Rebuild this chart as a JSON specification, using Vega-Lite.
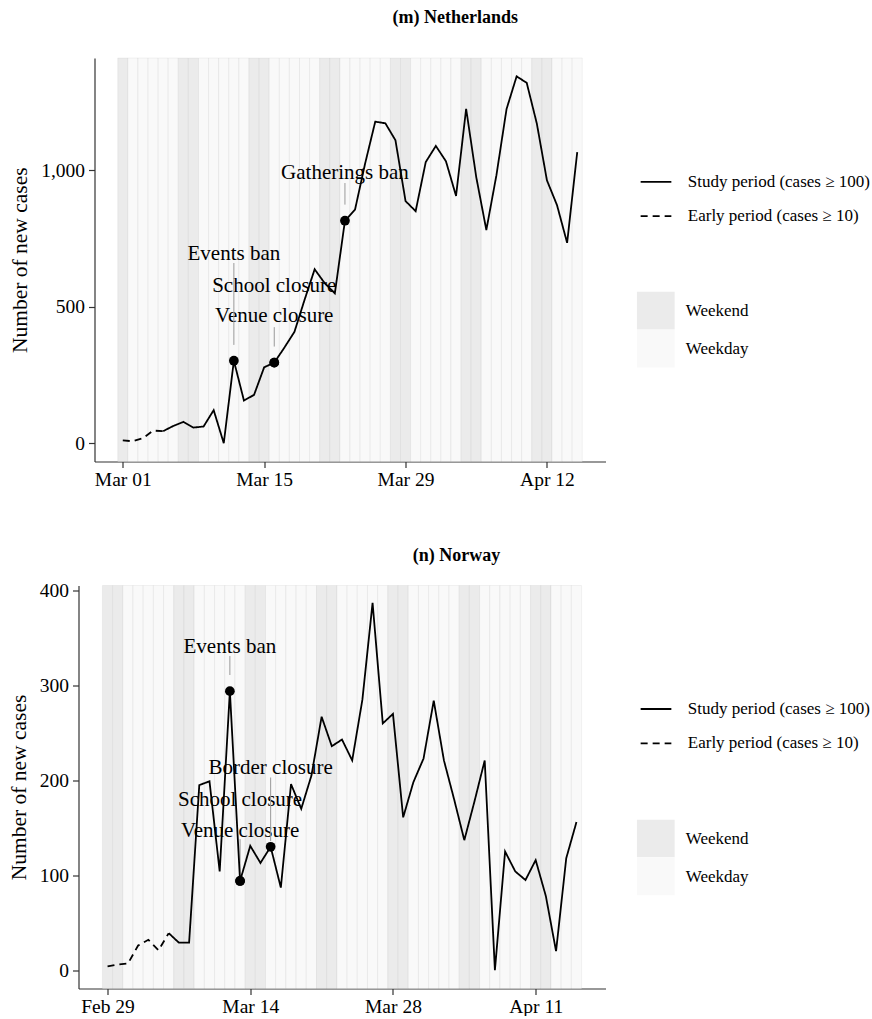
{
  "$schema": "https://vega.github.io/schema/vega-lite/v6.json",
  "background": "white",
  "padding": {"left": 7.5, "top": 8, "right": 0, "bottom": 0},
  "columns": 1,
  "spacing": 57.5,
  "config": {
    "font": "Liberation Serif",
    "view": {"stroke": null},
    "axis": {
      "grid": false,
      "domainColor": "#333333",
      "domainWidth": 1.2,
      "tickColor": "#333333",
      "tickWidth": 1.2,
      "tickSize": 6,
      "labelPadding": 4,
      "labelFont": "Liberation Serif",
      "labelFontSize": 19.5,
      "labelColor": "black",
      "titleFont": "Liberation Serif",
      "titleFontSize": 21.5,
      "titleFontWeight": "normal",
      "titleColor": "black",
      "titlePadding": 9
    },
    "axisX": {"labelPadding": 3},
    "legend": {
      "labelFont": "Liberation Serif",
      "labelFontSize": 17,
      "labelColor": "black",
      "labelLimit": 400,
      "padding": 0,
      "direction": "vertical"
    },
    "title": {"font": "Liberation Serif", "fontSize": 18, "fontWeight": "bold", "color": "black", "frame": "group", "anchor": "middle"}
  },
  "resolve": {
    "scale": {"x": "independent", "y": "independent", "fill": "independent", "strokeDash": "independent"},
    "legend": {"fill": "independent", "strokeDash": "independent"}
  },
  "datasets": {
    "nl": [
      {"date": "2020-03-01", "cases": 10, "day": "Weekend", "early": true, "study": false},
      {"date": "2020-03-02", "cases": 7, "day": "Weekday", "early": true, "study": false},
      {"date": "2020-03-03", "cases": 18, "day": "Weekday", "early": true, "study": false},
      {"date": "2020-03-04", "cases": 46, "day": "Weekday", "early": true, "study": false},
      {"date": "2020-03-05", "cases": 44, "day": "Weekday", "early": true, "study": true},
      {"date": "2020-03-06", "cases": 63, "day": "Weekday", "early": false, "study": true},
      {"date": "2020-03-07", "cases": 78, "day": "Weekend", "early": false, "study": true},
      {"date": "2020-03-08", "cases": 57, "day": "Weekend", "early": false, "study": true},
      {"date": "2020-03-09", "cases": 61, "day": "Weekday", "early": false, "study": true},
      {"date": "2020-03-10", "cases": 121, "day": "Weekday", "early": false, "study": true},
      {"date": "2020-03-11", "cases": 0, "day": "Weekday", "early": false, "study": true},
      {"date": "2020-03-12", "cases": 302, "day": "Weekday", "early": false, "study": true},
      {"date": "2020-03-13", "cases": 156, "day": "Weekday", "early": false, "study": true},
      {"date": "2020-03-14", "cases": 177, "day": "Weekend", "early": false, "study": true},
      {"date": "2020-03-15", "cases": 278, "day": "Weekend", "early": false, "study": true},
      {"date": "2020-03-16", "cases": 295, "day": "Weekday", "early": false, "study": true},
      {"date": "2020-03-17", "cases": 350, "day": "Weekday", "early": false, "study": true},
      {"date": "2020-03-18", "cases": 408, "day": "Weekday", "early": false, "study": true},
      {"date": "2020-03-19", "cases": 525, "day": "Weekday", "early": false, "study": true},
      {"date": "2020-03-20", "cases": 637, "day": "Weekday", "early": false, "study": true},
      {"date": "2020-03-21", "cases": 586, "day": "Weekend", "early": false, "study": true},
      {"date": "2020-03-22", "cases": 549, "day": "Weekend", "early": false, "study": true},
      {"date": "2020-03-23", "cases": 815, "day": "Weekday", "early": false, "study": true},
      {"date": "2020-03-24", "cases": 856, "day": "Weekday", "early": false, "study": true},
      {"date": "2020-03-25", "cases": 1025, "day": "Weekday", "early": false, "study": true},
      {"date": "2020-03-26", "cases": 1178, "day": "Weekday", "early": false, "study": true},
      {"date": "2020-03-27", "cases": 1172, "day": "Weekday", "early": false, "study": true},
      {"date": "2020-03-28", "cases": 1110, "day": "Weekend", "early": false, "study": true},
      {"date": "2020-03-29", "cases": 887, "day": "Weekend", "early": false, "study": true},
      {"date": "2020-03-30", "cases": 850, "day": "Weekday", "early": false, "study": true},
      {"date": "2020-03-31", "cases": 1030, "day": "Weekday", "early": false, "study": true},
      {"date": "2020-04-01", "cases": 1089, "day": "Weekday", "early": false, "study": true},
      {"date": "2020-04-02", "cases": 1033, "day": "Weekday", "early": false, "study": true},
      {"date": "2020-04-03", "cases": 906, "day": "Weekday", "early": false, "study": true},
      {"date": "2020-04-04", "cases": 1225, "day": "Weekend", "early": false, "study": true},
      {"date": "2020-04-05", "cases": 975, "day": "Weekend", "early": false, "study": true},
      {"date": "2020-04-06", "cases": 781, "day": "Weekday", "early": false, "study": true},
      {"date": "2020-04-07", "cases": 982, "day": "Weekday", "early": false, "study": true},
      {"date": "2020-04-08", "cases": 1224, "day": "Weekday", "early": false, "study": true},
      {"date": "2020-04-09", "cases": 1344, "day": "Weekday", "early": false, "study": true},
      {"date": "2020-04-10", "cases": 1320, "day": "Weekday", "early": false, "study": true},
      {"date": "2020-04-11", "cases": 1171, "day": "Weekend", "early": false, "study": true},
      {"date": "2020-04-12", "cases": 963, "day": "Weekend", "early": false, "study": true},
      {"date": "2020-04-13", "cases": 872, "day": "Weekday", "early": false, "study": true},
      {"date": "2020-04-14", "cases": 734, "day": "Weekday", "early": false, "study": true},
      {"date": "2020-04-15", "cases": 1066, "day": "Weekday", "early": false, "study": true}
    ],
    "nl_events": [
      {"date": "2020-03-12", "cases": 302, "label": "Events ban", "label_y": 694, "seg_from": 660, "seg_to": 360},
      {"date": "2020-03-16", "cases": 295, "label": "School closure", "label_y": 577, "seg_from": null, "seg_to": null},
      {"date": "2020-03-16", "cases": 295, "label": "Venue closure", "label_y": 467, "seg_from": 425, "seg_to": 354},
      {"date": "2020-03-23", "cases": 815, "label": "Gatherings ban", "label_y": 990, "seg_from": 953, "seg_to": 874}
    ],
    "no": [
      {"date": "2020-02-29", "cases": 4, "day": "Weekend", "early": true, "study": false},
      {"date": "2020-03-01", "cases": 6, "day": "Weekend", "early": true, "study": false},
      {"date": "2020-03-02", "cases": 7, "day": "Weekday", "early": true, "study": false},
      {"date": "2020-03-03", "cases": 26, "day": "Weekday", "early": true, "study": false},
      {"date": "2020-03-04", "cases": 32, "day": "Weekday", "early": true, "study": false},
      {"date": "2020-03-05", "cases": 21, "day": "Weekday", "early": true, "study": false},
      {"date": "2020-03-06", "cases": 39, "day": "Weekday", "early": true, "study": true},
      {"date": "2020-03-07", "cases": 29, "day": "Weekend", "early": false, "study": true},
      {"date": "2020-03-08", "cases": 29, "day": "Weekend", "early": false, "study": true},
      {"date": "2020-03-09", "cases": 195, "day": "Weekday", "early": false, "study": true},
      {"date": "2020-03-10", "cases": 199, "day": "Weekday", "early": false, "study": true},
      {"date": "2020-03-11", "cases": 104, "day": "Weekday", "early": false, "study": true},
      {"date": "2020-03-12", "cases": 294, "day": "Weekday", "early": false, "study": true},
      {"date": "2020-03-13", "cases": 94, "day": "Weekday", "early": false, "study": true},
      {"date": "2020-03-14", "cases": 131, "day": "Weekend", "early": false, "study": true},
      {"date": "2020-03-15", "cases": 113, "day": "Weekend", "early": false, "study": true},
      {"date": "2020-03-16", "cases": 130, "day": "Weekday", "early": false, "study": true},
      {"date": "2020-03-17", "cases": 87, "day": "Weekday", "early": false, "study": true},
      {"date": "2020-03-18", "cases": 196, "day": "Weekday", "early": false, "study": true},
      {"date": "2020-03-19", "cases": 170, "day": "Weekday", "early": false, "study": true},
      {"date": "2020-03-20", "cases": 205, "day": "Weekday", "early": false, "study": true},
      {"date": "2020-03-21", "cases": 267, "day": "Weekend", "early": false, "study": true},
      {"date": "2020-03-22", "cases": 236, "day": "Weekend", "early": false, "study": true},
      {"date": "2020-03-23", "cases": 243, "day": "Weekday", "early": false, "study": true},
      {"date": "2020-03-24", "cases": 221, "day": "Weekday", "early": false, "study": true},
      {"date": "2020-03-25", "cases": 285, "day": "Weekday", "early": false, "study": true},
      {"date": "2020-03-26", "cases": 387, "day": "Weekday", "early": false, "study": true},
      {"date": "2020-03-27", "cases": 260, "day": "Weekday", "early": false, "study": true},
      {"date": "2020-03-28", "cases": 270, "day": "Weekend", "early": false, "study": true},
      {"date": "2020-03-29", "cases": 161, "day": "Weekend", "early": false, "study": true},
      {"date": "2020-03-30", "cases": 198, "day": "Weekday", "early": false, "study": true},
      {"date": "2020-03-31", "cases": 223, "day": "Weekday", "early": false, "study": true},
      {"date": "2020-04-01", "cases": 284, "day": "Weekday", "early": false, "study": true},
      {"date": "2020-04-02", "cases": 221, "day": "Weekday", "early": false, "study": true},
      {"date": "2020-04-03", "cases": 180, "day": "Weekday", "early": false, "study": true},
      {"date": "2020-04-04", "cases": 137, "day": "Weekend", "early": false, "study": true},
      {"date": "2020-04-05", "cases": 178, "day": "Weekend", "early": false, "study": true},
      {"date": "2020-04-06", "cases": 221, "day": "Weekday", "early": false, "study": true},
      {"date": "2020-04-07", "cases": 0, "day": "Weekday", "early": false, "study": true},
      {"date": "2020-04-08", "cases": 125, "day": "Weekday", "early": false, "study": true},
      {"date": "2020-04-09", "cases": 104, "day": "Weekday", "early": false, "study": true},
      {"date": "2020-04-10", "cases": 95, "day": "Weekday", "early": false, "study": true},
      {"date": "2020-04-11", "cases": 116, "day": "Weekend", "early": false, "study": true},
      {"date": "2020-04-12", "cases": 78, "day": "Weekend", "early": false, "study": true},
      {"date": "2020-04-13", "cases": 20, "day": "Weekday", "early": false, "study": true},
      {"date": "2020-04-14", "cases": 118, "day": "Weekday", "early": false, "study": true},
      {"date": "2020-04-15", "cases": 156, "day": "Weekday", "early": false, "study": true}
    ],
    "no_events": [
      {"date": "2020-03-12", "cases": 294, "label": "Events ban", "label_y": 341, "seg_from": 331, "seg_to": 311},
      {"date": "2020-03-16", "cases": 130, "label": "Border closure", "label_y": 213, "seg_from": 203, "seg_to": 136},
      {"date": "2020-03-13", "cases": 94, "label": "School closure", "label_y": 179, "seg_from": null, "seg_to": null},
      {"date": "2020-03-13", "cases": 94, "label": "Venue closure", "label_y": 147, "seg_from": 138, "seg_to": 100}
    ]
  },
  "concat": [
    {
      "width": 527,
      "height": 403.5,
      "title": {"text": "(m) Netherlands", "dx": 113.3, "offset": 31},
      "data": {"name": "nl"},
      "encoding": {
        "x": {
          "field": "date", "type": "temporal", "title": null,
          "scale": {"type": "utc", "nice": false, "rangeMin": 16, "domain": [
            {"year": 2020, "month": 2, "date": 27, "hours": 4, "minutes": 48, "utc": true},
            {"year": 2020, "month": 4, "date": 17, "hours": 19, "minutes": 12, "utc": true}]},
          "axis": {"format": "%b %d", "labelFlush": false, "labelOverlap": false, "values": [
            {"year": 2020, "month": 3, "date": 1, "utc": true},
            {"year": 2020, "month": 3, "date": 15, "utc": true},
            {"year": 2020, "month": 3, "date": 29, "utc": true},
            {"year": 2020, "month": 4, "date": 12, "utc": true}]}
        }
      },
      "layer": [
        {
          "mark": {"type": "rect", "width": 10.1, "stroke": "#a0a0a0", "strokeOpacity": 0.13, "strokeWidth": 1},
          "encoding": {
            "fill": {"field": "day", "type": "nominal",
              "scale": {"domain": ["Weekend", "Weekday"], "range": ["#ebebeb", "#f9f9f9"]},
              "legend": {"title": null, "orient": "none", "legendX": 558.3, "legendY": 233.7, "symbolType": "square", "symbolSize": 1421, "symbolStrokeWidth": 0, "symbolOpacity": 1, "rowPadding": 0, "labelOffset": 11}}
          }
        },
        {
          "data": {"name": "nl_events"},
          "mark": {"type": "text", "font": "Liberation Serif", "fontSize": 21, "color": "black", "baseline": "middle", "align": "center"},
          "encoding": {
            "y": {"field": "label_y", "type": "quantitative", "title": "Number of new cases", "scale": {"domain": [-67.2, 1411.2], "nice": false, "zero": false}, "axis": {"values": [0, 500, 1000], "format": ",.0f", "offset": -16}},
            "text": {"field": "label"}
          }
        },
        {
          "data": {"name": "nl_events"},
          "transform": [{"filter": "datum.seg_from != null"}],
          "mark": {"type": "rule", "color": "#999999", "strokeWidth": 1},
          "encoding": {
            "y": {"field": "seg_from", "type": "quantitative", "title": "Number of new cases", "scale": {"domain": [-67.2, 1411.2], "nice": false, "zero": false}, "axis": {"values": [0, 500, 1000], "format": ",.0f", "offset": -16}},
            "y2": {"field": "seg_to"}
          }
        },
        {
          "transform": [{"filter": "datum.early"}],
          "mark": {"type": "line", "color": "black", "strokeWidth": 1.8},
          "encoding": {
            "y": {"field": "cases", "type": "quantitative", "title": "Number of new cases", "scale": {"domain": [-67.2, 1411.2], "nice": false, "zero": false}, "axis": {"values": [0, 500, 1000], "format": ",.0f", "offset": -16}},
            "strokeDash": {"datum": "Early period (cases ≥ 10)", "type": "nominal",
              "scale": {"domain": ["Study period (cases ≥ 100)", "Early period (cases ≥ 10)"], "range": [[1, 0], [7, 5]]},
              "legend": {"title": null, "orient": "none", "legendX": 561, "legendY": 107.3, "symbolType": "stroke", "symbolSize": 943, "symbolStrokeColor": "black", "symbolStrokeWidth": 1.8, "rowPadding": 9.3, "labelOffset": 15.3}}
          }
        },
        {
          "transform": [{"filter": "datum.study"}],
          "mark": {"type": "line", "color": "black", "strokeWidth": 1.8},
          "encoding": {
            "y": {"field": "cases", "type": "quantitative", "title": "Number of new cases", "scale": {"domain": [-67.2, 1411.2], "nice": false, "zero": false}, "axis": {"values": [0, 500, 1000], "format": ",.0f", "offset": -16}},
            "strokeDash": {"datum": "Study period (cases ≥ 100)", "type": "nominal",
              "scale": {"domain": ["Study period (cases ≥ 100)", "Early period (cases ≥ 10)"], "range": [[1, 0], [7, 5]]}}
          }
        },
        {
          "data": {"name": "nl_events"},
          "mark": {"type": "circle", "color": "black", "size": 95, "opacity": 1},
          "encoding": {
            "y": {"field": "cases", "type": "quantitative", "title": "Number of new cases", "scale": {"domain": [-67.2, 1411.2], "nice": false, "zero": false}, "axis": {"values": [0, 500, 1000], "format": ",.0f", "offset": -16}}
          }
        }
      ]
    },
    {
      "width": 527,
      "height": 403,
      "title": {"text": "(n) Norway", "dx": 114.5, "offset": 16},
      "data": {"name": "no"},
      "encoding": {
        "x": {
          "field": "date", "type": "temporal", "title": null,
          "scale": {"type": "utc", "nice": false, "domain": [
            {"year": 2020, "month": 2, "date": 26, "hours": 3, "minutes": 36, "utc": true},
            {"year": 2020, "month": 4, "date": 17, "hours": 20, "minutes": 24, "utc": true}]},
          "axis": {"format": "%b %d", "labelFlush": false, "labelOverlap": false, "values": [
            {"year": 2020, "month": 2, "date": 29, "utc": true},
            {"year": 2020, "month": 3, "date": 14, "utc": true},
            {"year": 2020, "month": 3, "date": 28, "utc": true},
            {"year": 2020, "month": 4, "date": 11, "utc": true}]}
        }
      },
      "layer": [
        {
          "mark": {"type": "rect", "width": 10.19, "stroke": "#a0a0a0", "strokeOpacity": 0.13, "strokeWidth": 1},
          "encoding": {
            "fill": {"field": "day", "type": "nominal",
              "scale": {"domain": ["Weekend", "Weekday"], "range": ["#ebebeb", "#f9f9f9"]},
              "legend": {"title": null, "orient": "none", "legendX": 558.3, "legendY": 234, "symbolType": "square", "symbolSize": 1421, "symbolStrokeWidth": 0, "symbolOpacity": 1, "rowPadding": 0, "labelOffset": 11}}
          }
        },
        {
          "data": {"name": "no_events"},
          "mark": {"type": "text", "font": "Liberation Serif", "fontSize": 21, "color": "black", "baseline": "middle", "align": "center"},
          "encoding": {
            "y": {"field": "label_y", "type": "quantitative", "title": "Number of new cases", "scale": {"domain": [-19.3, 405.3], "nice": false, "zero": false}, "axis": {"values": [0, 100, 200, 300, 400]}},
            "text": {"field": "label"}
          }
        },
        {
          "data": {"name": "no_events"},
          "transform": [{"filter": "datum.seg_from != null"}],
          "mark": {"type": "rule", "color": "#999999", "strokeWidth": 1},
          "encoding": {
            "y": {"field": "seg_from", "type": "quantitative", "title": "Number of new cases", "scale": {"domain": [-19.3, 405.3], "nice": false, "zero": false}, "axis": {"values": [0, 100, 200, 300, 400]}},
            "y2": {"field": "seg_to"}
          }
        },
        {
          "transform": [{"filter": "datum.early"}],
          "mark": {"type": "line", "color": "black", "strokeWidth": 1.8},
          "encoding": {
            "y": {"field": "cases", "type": "quantitative", "title": "Number of new cases", "scale": {"domain": [-19.3, 405.3], "nice": false, "zero": false}, "axis": {"values": [0, 100, 200, 300, 400]}},
            "strokeDash": {"datum": "Early period (cases ≥ 10)", "type": "nominal",
              "scale": {"domain": ["Study period (cases ≥ 100)", "Early period (cases ≥ 10)"], "range": [[1, 0], [7, 5]]},
              "legend": {"title": null, "orient": "none", "legendX": 561, "legendY": 107, "symbolType": "stroke", "symbolSize": 943, "symbolStrokeColor": "black", "symbolStrokeWidth": 1.8, "rowPadding": 9.3, "labelOffset": 15.3}}
          }
        },
        {
          "transform": [{"filter": "datum.study"}],
          "mark": {"type": "line", "color": "black", "strokeWidth": 1.8},
          "encoding": {
            "y": {"field": "cases", "type": "quantitative", "title": "Number of new cases", "scale": {"domain": [-19.3, 405.3], "nice": false, "zero": false}, "axis": {"values": [0, 100, 200, 300, 400]}},
            "strokeDash": {"datum": "Study period (cases ≥ 100)", "type": "nominal",
              "scale": {"domain": ["Study period (cases ≥ 100)", "Early period (cases ≥ 10)"], "range": [[1, 0], [7, 5]]}}
          }
        },
        {
          "data": {"name": "no_events"},
          "mark": {"type": "circle", "color": "black", "size": 95, "opacity": 1},
          "encoding": {
            "y": {"field": "cases", "type": "quantitative", "title": "Number of new cases", "scale": {"domain": [-19.3, 405.3], "nice": false, "zero": false}, "axis": {"values": [0, 100, 200, 300, 400]}}
          }
        }
      ]
    }
  ]
}
